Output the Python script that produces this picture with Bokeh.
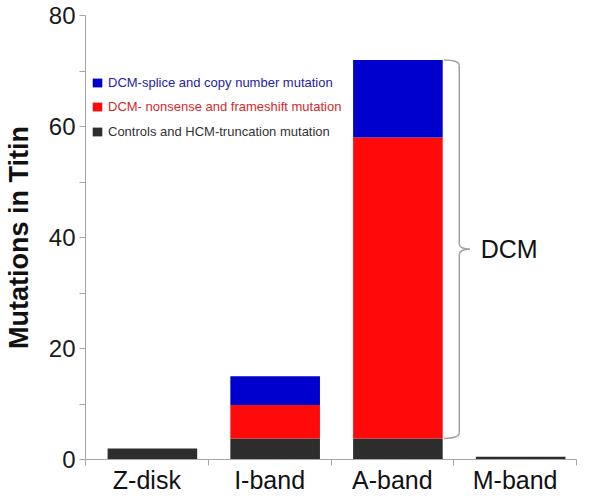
from bokeh.plotting import figure
from bokeh.models import (Range1d, FixedTicker, Legend, LegendItem, ColumnDataSource,
                          LinearAxis)
from bokeh.core.properties import value
from bokeh.embed import file_html
from bokeh.resources import INLINE

# ---- data ----
categories = ["Z-disk", "I-band", "A-band", "M-band"]
controls_hcm = [2.0, 3.8, 3.8, 0.5]
dcm_nonsense = [0.0, 6.0, 54.2, 0.0]
dcm_splice = [0.0, 5.2, 14.0, 0.0]
series_labels = ["DCM-splice and copy number mutation",
                 "DCM- nonsense and frameshift mutation",
                 "Controls and HCM-truncation mutation"]
y_ticks = [0, 20, 40, 60, 80]
y_minor_ticks = [10, 30, 50, 70]
y_axis_label = "Mutations in Titin"
bracket_label = "DCM"

FONT = "Liberation Sans"
C_CTRL, C_NONS, C_SPLI = "#2d2d2d", "#ff0a0a", "#0000cc"
T_CTRL, T_NONS, T_SPLI = "#333333", "#d42a2a", "#2424a0"
AXIS_GREY = "#a6a6a6"

n = len(categories)
cat_centers = [i + 0.5 for i in range(n)]
bar_shift = 0.045          # bars sit slightly right of the category centres
bar_w = 0.73
src = ColumnDataSource(dict(x=[c + bar_shift for c in cat_centers],
                            controls=controls_hcm, nonsense=dcm_nonsense,
                            splice=dcm_splice))

p = figure(width=584, height=496, output_backend="svg", toolbar_location=None,
           x_range=Range1d(0, n), y_range=Range1d(y_ticks[0], y_ticks[-1]),
           x_axis_type=None, y_axis_type=None,
           min_border_left=80, min_border_right=8, min_border_top=15,
           min_border_bottom=34)
p.outline_line_color = None
p.background_fill_color = "white"

r_ctrl, r_nons, r_spli = p.vbar_stack(["controls", "nonsense", "splice"], x="x",
                                      width=bar_w, source=src,
                                      color=[C_CTRL, C_NONS, C_SPLI],
                                      line_color=None)

# ---- axes ----
xaxis = LinearAxis(ticker=FixedTicker(ticks=cat_centers, minor_ticks=list(range(n + 1))),
                   major_label_overrides={x: c for x, c in zip(cat_centers, categories)})
xaxis.axis_line_color = AXIS_GREY
xaxis.major_tick_in = 0
xaxis.major_tick_out = 0
xaxis.minor_tick_in = 0
xaxis.minor_tick_out = 6
xaxis.minor_tick_line_color = AXIS_GREY
xaxis.major_label_text_font = FONT
xaxis.major_label_text_font_size = "25px"
xaxis.major_label_text_color = "#111111"
xaxis.major_label_standoff = 0
p.add_layout(xaxis, "below")

yaxis = LinearAxis(ticker=FixedTicker(ticks=y_ticks, minor_ticks=y_minor_ticks),
                   axis_label=y_axis_label)
yaxis.axis_line_color = AXIS_GREY
yaxis.major_tick_line_color = AXIS_GREY
yaxis.minor_tick_line_color = AXIS_GREY
yaxis.major_tick_in = 0
yaxis.major_tick_out = 6
yaxis.minor_tick_in = 0
yaxis.minor_tick_out = 6
yaxis.major_label_text_font = FONT
yaxis.major_label_text_font_size = "24px"
yaxis.major_label_text_color = "#1a1a1a"
yaxis.major_label_standoff = 4
yaxis.axis_label_text_font = FONT
yaxis.axis_label_text_font_size = "27px"
yaxis.axis_label_text_font_style = "bold"
yaxis.axis_label_text_color = "#111111"
yaxis.axis_label_standoff = 12
p.add_layout(yaxis, "left")

# ---- DCM bracket on the A-band bar ----
ia = categories.index("A-band")
b_top = controls_hcm[ia] + dcm_nonsense[ia] + dcm_splice[ia]
b_bot = controls_hcm[ia]
b_mid = (b_top + b_bot) / 2
xa = cat_centers[ia] + bar_shift + bar_w / 2 + 0.01
xb = xa + 0.125
xc = xb + 0.085
e = 1.0
bk = dict(line_color="#a0a0a0", line_width=1.5)
p.quadratic(x0=[xa, xb, xb, xb], y0=[b_top, b_mid + e, b_mid - e, b_bot + e],
            x1=[xb, xc, xc, xa], y1=[b_top - e, b_mid, b_mid, b_bot],
            cx=[xb, xb, xb, xb], cy=[b_top, b_mid, b_mid, b_bot], **bk)
p.segment(x0=[xb, xb], y0=[b_top - e, b_mid - e], x1=[xb, xb], y1=[b_mid + e, b_bot + e], **bk)
p.text(x=[xc + 0.09], y=[b_mid], text=[bracket_label], text_font=value(FONT),
       text_font_size="25px", text_baseline="middle", text_align="left",
       text_color="#111111")

# ---- legend (one entry per legend so each label keeps its own colour) ----
for i, (r, lab, col) in enumerate(zip([r_spli, r_nons, r_ctrl], series_labels,
                                      [T_SPLI, T_NONS, T_CTRL])):
    lg = Legend(items=[LegendItem(label=value(lab), renderers=[r])],
                location=(6, 369.5 - 24.5 * i))
    lg.background_fill_alpha = 0
    lg.border_line_alpha = 0
    lg.padding = 0
    lg.margin = 0
    lg.spacing = 0
    lg.glyph_width = 12
    lg.glyph_height = 11
    lg.label_height = 11
    lg.label_standoff = 5
    lg.label_text_font = FONT
    lg.label_text_font_size = "13px"
    lg.label_text_color = col
    lg.label_text_baseline = "middle"
    p.add_layout(lg)

open("out.html", "w").write(file_html(p, INLINE))
